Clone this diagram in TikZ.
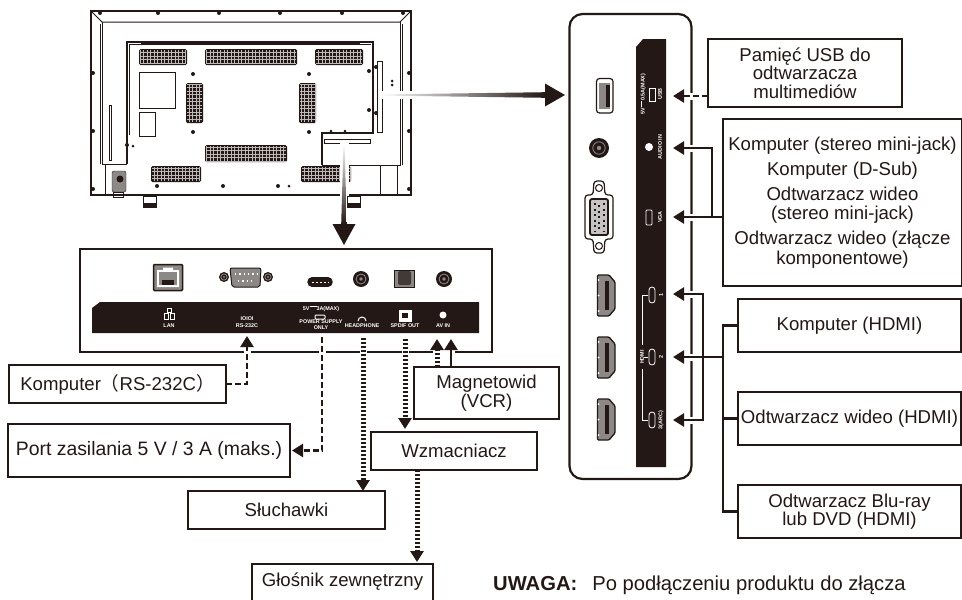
\documentclass[tikz,border=0pt]{standalone}
\usepackage{fontspec}
\setmainfont{Liberation Sans}
\newfontfamily\cjk{Noto Sans CJK JP}
\usetikzlibrary{arrows.meta,positioning,calc}
\definecolor{ink}{HTML}{231815}
\definecolor{jackgray}{HTML}{8C8886}
% grille on the back of the set
\newcommand{\grille}[4]{%
  \fill[ink,rounded corners=1.5pt] (#1,#2) rectangle (#3,#4);
  \draw[white!70!ink,line width=0.25pt,step=3.5pt] (#1+1,#2+1) grid (#3-1,#4-1);}
\newcommand{\jack}[3]{%
  \fill[ink] (#1,#2) circle (#3);
  \draw[jackgray,line width=0.8pt] (#1,#2) circle (#3*0.62);
  \fill[jackgray] (#1,#2) circle (#3*0.22);}
\newcommand{\hdmiport}[1]{%
  \filldraw[fill=jackgray,draw=ink,line width=1.3pt,rounded corners=1pt]
    (597.5,#1) -- (609,#1) -- (615,#1+7) -- (615,#1+34) -- (609,#1+41) -- (597.5,#1+41) -- cycle;
  \fill[ink] (605,#1+6) rectangle (608.5,#1+35);
  \fill[white] (598.5,#1+5) circle (1) (598.5,#1+20.5) circle (1) (598.5,#1+36) circle (1);}
\begin{document}
\begin{tikzpicture}[x=1pt,y=-1pt,
  devbox/.style={rectangle, draw=ink, line width=1.2pt, fill=white, inner sep=0pt, outer sep=0pt,
                 font=\fontsize{18.6}{18.4}\selectfont, text=ink, align=center},
  sidepanel/.style={rectangle, rounded corners=13pt, draw=ink, line width=2.2pt, inner sep=0pt,
                    minimum width=122pt, minimum height=465pt},
  rearpanel/.style={rectangle, draw=ink, line width=2.2pt, inner sep=0pt,
                    minimum width=412pt, minimum height=103pt},
  portlabel/.style={inner sep=0pt, text=white, font=\fontsize{5.4}{5.8}\selectfont\bfseries, align=center},
  dashline/.style={draw=ink, line width=2.4pt, dash pattern=on 6pt off 3pt},
  dotline/.style={draw=ink, line width=5pt, dash pattern=on 2.4pt off 1.6pt},
  solidline/.style={draw=ink, line width=2.4pt},
  headtip/.style={-{Triangle[width=13pt,length=11pt]}},
  gap/.style={white, line width=7pt},
  tvline/.style={draw=ink, line width=1pt},
]
  \clip (0,0) rectangle (962,600);

  % the set seen from behind
  \draw[ink,line width=1.6pt] (91,11) rectangle (411,195);
  \draw[tvline] (91,11) -- (102,22) -- (400,22) -- (411,11);
  \draw[tvline] (102,22) -- (102,164) -- (127,164) (100,24) -- (100,164);
  \draw[tvline] (400,22) -- (400,165) -- (322,165) (402,24) -- (402,165);
  \draw[tvline] (105,165) -- (105,195) (380,165) -- (380,195) (397,165) -- (397,195);
  \draw[tvline,line width=1.3pt] (127,135) -- (127,42) -- (373,42) -- (373,133) -- (322,133) -- (322,165);
  \draw[tvline] (129,135) -- (129,44) -- (371,44);
  \draw[tvline,line width=1.3pt] (127,135) -- (127,164);
  \fill[ink] (141,41.5) rectangle (360,45);
  \grille{139}{49}{187}{65}
  \grille{205}{49}{297}{65}
  \grille{315}{49}{363}{65}
  \grille{186}{83}{203}{123}
  \grille{299}{83}{316}{123}
  \grille{205}{145}{287}{162}
  \grille{151}{166}{201}{182}
  \grille{301}{166}{351}{182}
  \draw[tvline] (139,72) rectangle (175,108) (139,112) rectangle (155,136);
  \draw[tvline] (377,61) rectangle (382,132) (324,139) rectangle (370,143);
  \draw[tvline] (109.5,105) rectangle (111.5,160);
  \fill[ink] (193,74) circle (2) (309,74) circle (2) (193,132) circle (2) (309,132) circle (2)
    (157,186) circle (2) (223,186) circle (2) (278,186) circle (2) (289,186) circle (1.5)
    (100,13) circle (2) (158,13) circle (2) (219,13) circle (2) (280,13) circle (2) (342,13) circle (2) (403,13) circle (2)
    (93,73) circle (2) (93,131) circle (2) (93,189) circle (2) (409,73) circle (2) (409,131) circle (2) (409,189) circle (2)
    (392,81) circle (1.5) (392,85) circle (1.5) (369,71) circle (2) (376,67) circle (2) (369,110) circle (2) (376,113) circle (2)
    (331,131) circle (1.5) (345,131) circle (1.5) (127,145) circle (2) (133,146) circle (1.5);
  \filldraw[fill=jackgray,draw=ink,rounded corners=2pt] (112,171) rectangle (126,192);
  \fill[ink] (120,179) circle (3.5);
  \draw[tvline] (113,192) rectangle (123,197);
  \filldraw[fill=white,draw=ink] (143,196) rectangle (156,207);
  \fill[ink] (143,203) rectangle (156,207);
  \filldraw[fill=white,draw=ink] (347,196) rectangle (360,207);
  \fill[ink] (347,203) rectangle (360,207);

  % panels
  \node[rearpanel] (rear) at (286,300.5) {};
  \node[sidepanel] (side) at (630.5,246.5) {};

  % rear panel connectors
  \filldraw[fill=jackgray,draw=ink,line width=1.5pt,rounded corners=1pt] (153.5,264.5) rectangle (182.5,290.5);
  \fill[white] (157,270) -- (163,270) -- (163,267.5) -- (173,267.5) -- (173,270) -- (179,270) -- (179,287) -- (157,287) -- cycle;
  \fill[jackgray] (159,272) -- (177,272) -- (177,285) -- (159,285) -- cycle;
  \fill[ink] (162,280) rectangle (174,285);
  \filldraw[fill=jackgray,draw=ink,line width=1pt,rounded corners=2pt] (230,268) -- (261,268) -- (260,287) -- (232,287) -- cycle;
  \draw[white,line width=1.3pt,dash pattern=on 1.3pt off 3pt] (235,274) -- (257,274) (238,281) -- (255,281);
  \jack{224}{277}{5}
  \jack{268}{277}{5}
  \draw[ink,line width=9.5pt,line cap=round] (312,282) -- (328,282);
  \draw[white,line width=1pt,dash pattern=on 1.5pt off 2.5pt] (312,282) -- (329,282);
  \jack{361}{279}{8}
  \filldraw[fill=jackgray,draw=ink,line width=1pt] (394.5,270.5) rectangle (414.5,287);
  \fill[ink!70!jackgray,rounded corners=2pt] (398,271) rectangle (411,285);
  \jack{444}{279}{8}
  \fill[ink] (92,308) -- (100,302) -- (479,302) -- (479,333) -- (92,333) -- cycle;

  \node[portlabel] (lanlabel) at (169,326) {LAN};
  \draw[white,line width=0.7pt] (164,313) rectangle (168,319) (170,313) rectangle (174,319) (167,308) rectangle (171,312);
  \node[portlabel] (rslabel) at (247,326) {RS-232C};
  \node[portlabel, above=3pt of rslabel] (rsicon) {IOIOI};
  \node[portlabel] (powerlabel) at (321,324.5) {POWER SUPPLY\\ONLY};
  \node[portlabel, above=8pt of powerlabel] (poweramp) {5V\,$\overline{\phantom{m}}$3A(MAX)};
  \draw[white,line width=1pt,rounded corners=1pt] (315,315) rectangle (325,319);
  \node[portlabel] (hplabel) at (362,326) {HEADPHONE};
  \draw[white,line width=1pt] (358,321) arc[start angle=180,end angle=360,radius=4];
  \node[portlabel] (spdiflabel) at (405,326) {SPDIF OUT};
  \draw[white,fill=white] (399,310) rectangle (411,321);
  \fill[ink] (402,313) rectangle (408,318);
  \node[portlabel] (avlabel) at (443,326) {AV IN};
  \fill[white] (443,315) circle (3.5);

  % side panel connectors
  \filldraw[fill=white,draw=ink,line width=1.2pt,rounded corners=3pt] (596.5,78.5) rectangle (613,113);
  \fill[jackgray] (599,83) rectangle (610,109);
  \fill[ink] (606,85) rectangle (610,107);
  \jack{599}{148}{10}
  \filldraw[fill=white,draw=ink,line width=1.2pt,rounded corners=3pt] (594,181) -- (604,181) -- (605,195) -- (613,195) -- (613,239) -- (605,239) -- (604,253) -- (594,253) -- (593,239) -- (585,239) -- (585,195) -- (593,195) -- cycle;
  \draw[ink,line width=1pt] (599,188) circle (3.5) (599,246) circle (3.5);
  \filldraw[fill=jackgray!50,draw=ink,line width=1.8pt,rounded corners=2pt] (590,199) -- (608,199) -- (608,235) -- (590,235) -- cycle;
  \draw[ink,line width=2pt,dash pattern=on 2pt off 3.5pt] (594.5,203) -- (594.5,232) (599,205) -- (599,232) (603.5,203) -- (603.5,232);
  \hdmiport{275}
  \hdmiport{337}
  \hdmiport{399}
  \fill[ink] (636,47) -- (643,39) -- (666,39) -- (666,467) -- (636,467) -- cycle;

  \node[portlabel, rotate=90] (usblabel) at (660,94) {USB};
  \node[portlabel, rotate=90] (usbamp) at (643,94) {5V\,$\overline{\phantom{m}}$0.5A(MAX)};
  \draw[white,line width=0.8pt] (649,88) rectangle (655,101);
  \node[portlabel, rotate=90] (audiolabel) at (660,147) {AUDIO IN};
  \fill[white] (649,147) circle (4);
  \node[portlabel, rotate=90] (vgalabel) at (660,217) {VGA};
  \filldraw[draw=white,fill=ink,line width=0.8pt,rounded corners=1pt] (646,210) rectangle (652,225);
  \draw[white,line width=0.8pt] (648,295) -- (642,295) -- (642,345) (642,369) -- (642,420) -- (648,420) (642,357) -- (648,357);
  \node[portlabel, rotate=90, fill=ink] (hdmilabel) at (642,357) {HDMI};
  \filldraw[draw=white,fill=ink,line width=0.8pt,rounded corners=3pt] (649,287) rectangle (655,303) (649,349) rectangle (655,365) (649,412) rectangle (655,428);
  \node[portlabel, rotate=90] (hdmionelabel) at (661,295) {1};
  \node[portlabel, rotate=90] (hdmitwolabel) at (661,357) {2};
  \node[portlabel, rotate=90] (hdmithreelabel) at (661,420) {3(ARC)};

  % devices
  \node[devbox, minimum width=194pt, minimum height=68pt] (usb) at (805,73) {Pamięć USB do\\odtwarzacza\\multimediów};
  \node[devbox, minimum width=239pt, minimum height=167pt, font=\fontsize{18.6}{19.5}\selectfont] (analog) at (842.5,202.5)
    {Komputer (stereo mini-jack)\\[5.5pt]Komputer (D-Sub)\\[5.5pt]Odtwarzacz wideo\\(stereo mini-jack)\\[5.5pt]Odtwarzacz wideo (złącze\\komponentowe)};
  \node[devbox, minimum width=223pt, minimum height=53pt] (pchdmi) at (849.5,325.5) {Komputer (HDMI)};
  \node[devbox, minimum width=223pt, minimum height=53pt, below=40pt of pchdmi] (vidhdmi) {Odtwarzacz wideo (HDMI)};
  \node[devbox, minimum width=223pt, minimum height=53pt, below=40pt of vidhdmi] (bluray) {Odtwarzacz Blu-ray\\lub DVD (HDMI)};
  \node[devbox, minimum width=217pt, minimum height=38pt] (rspc) at (117.5,384) {Komputer{\cjk（}RS-232C{\cjk）}};
  \node[devbox, minimum width=282pt, minimum height=53pt, font=\fontsize{19.4}{20}\selectfont] (power) at (149,450.5) {Port zasilania 5 V / 3 A (maks.)};
  \node[devbox, minimum width=197pt, minimum height=38pt] (phones) at (286.5,510) {Słuchawki};
  \node[devbox, minimum width=166pt, minimum height=38pt] (amp) at (454,451) {Wzmacniacz};
  \node[devbox, minimum width=145pt, minimum height=52pt] (vcr) at (486.5,393) {Magnetowid\\(VCR)};
  \node[devbox, minimum width=181pt, minimum height=50pt] (speaker) at (342.5,589) {};
  \node[inner sep=0pt, text=ink, font=\fontsize{18.6}{19}\selectfont] (speakertext) at (342.5,582) {Głośnik zewnętrzny};
  \node[anchor=base west, inner sep=0pt, text=ink, font=\fontsize{20.2}{22}\selectfont] (note) at (493,590)
    {\textbf{UWAGA:}\hspace{15pt}Po podłączeniu produktu do złącza};

  % free ends on the strips
  \coordinate (rsin) at (247,336);
  \coordinate (powerout) at (322,337);
  \coordinate (hpout) at (363,338);
  \coordinate (spdifout) at (405,339);
  \coordinate (avone) at (437,339);
  \coordinate (avtwo) at (451,339);
  \coordinate (usbin) at (673,96);
  \coordinate (audioin) at (673,148);
  \coordinate (vgain) at (673,217);
  \coordinate (hdmione) at (673,294);
  \coordinate (hdmitwo) at (673,357);
  \coordinate (hdmithree) at (673,420);
  \coordinate (analogjoin) at (712,217);
  \coordinate (hdmibus) at (703,357);
  \coordinate (hdmijoin) at (723,357);
  \coordinate (ampout) at (417,470);
  \coordinate (speakerin) at (417,562);

  % openings in the panel outlines where the lines pass
  \draw[gap] (247,348) -- (247,356);
  \draw[gap] (322,348) -- (322,356);
  \draw[gap] (363,348) -- (363,356);
  \draw[gap] (405,348) -- (405,356);
  \draw[gap,line width=22pt] (444,348) -- (444,356);
  \draw[gap] (687,96) -- (696,96);
  \draw[gap] (687,148) -- (696,148);
  \draw[gap] (687,217) -- (696,217);
  \draw[gap] (687,294) -- (696,294);
  \draw[gap] (687,357) -- (696,357);
  \draw[gap] (687,420) -- (696,420);

  % rear panel lines
  \draw[dashline, headtip] (rspc.east) -| (rsin);
  \draw[dashline, headtip] (powerout) |- ($(power.east)+(2,0)$);
  \draw[dotline, headtip] (hpout) -- (hpout |- phones.north);
  \draw[dotline, headtip] (spdifout) -- ($(spdifout |- amp.north)+(0,-3)$);
  \draw[dotline, headtip] (avone |- vcr.north) -- (avone);
  \draw[solidline, headtip] (avtwo |- vcr.north) -- (avtwo);
  \draw[dotline, headtip] (ampout) -- (speakerin);

  % side panel lines
  \draw[dashline, headtip] (usb.west |- usbin) -- (usbin);
  \draw[solidline, headtip] (analog.west |- vgain) -- (vgain);
  \draw[solidline, headtip] (analogjoin) |- (audioin);
  \draw[solidline, headtip] (hdmijoin) -- (hdmitwo);
  \draw[solidline, headtip] (hdmibus) |- (hdmione);
  \draw[solidline, headtip] (hdmibus) |- (hdmithree);
  \draw[solidline] (pchdmi.west) -| (bluray.west -| hdmijoin) -- (bluray.west);
  \draw[solidline] (vidhdmi.west) -- (vidhdmi.west -| hdmijoin);

  % big arrows out of the set
  \coordinate (tvbay) at (344,143);
  \coordinate (bigdown) at (344,245);
  \coordinate (tvside) at (378,95);
  \coordinate (bigright) at (565,95);
  \draw[white,line width=9pt] (tvbay) -- (344,196);
  \draw[white,line width=8pt] (tvside) -- (415,95);
  \shade[top color=white,middle color=ink,bottom color=ink] ($(tvbay)+(-0.5,0)$) -- ($(bigdown)+(-2.8,-21)$) -- ($(bigdown)+(2.8,-21)$) -- ($(tvbay)+(0.5,0)$) -- cycle;
  \fill[ink] (bigdown) -- ($(bigdown)+(-11.5,-21)$) -- ($(bigdown)+(11.5,-21)$) -- cycle;
  \shade[left color=white,middle color=ink,right color=ink] ($(tvside)+(0,-0.5)$) -- ($(bigright)+(-20,-2.8)$) -- ($(bigright)+(-20,2.8)$) -- ($(tvside)+(0,0.5)$) -- cycle;
  \fill[ink] (bigright) -- ($(bigright)+(-20,-11.5)$) -- ($(bigright)+(-20,11.5)$) -- cycle;
\end{tikzpicture}
\end{document}
